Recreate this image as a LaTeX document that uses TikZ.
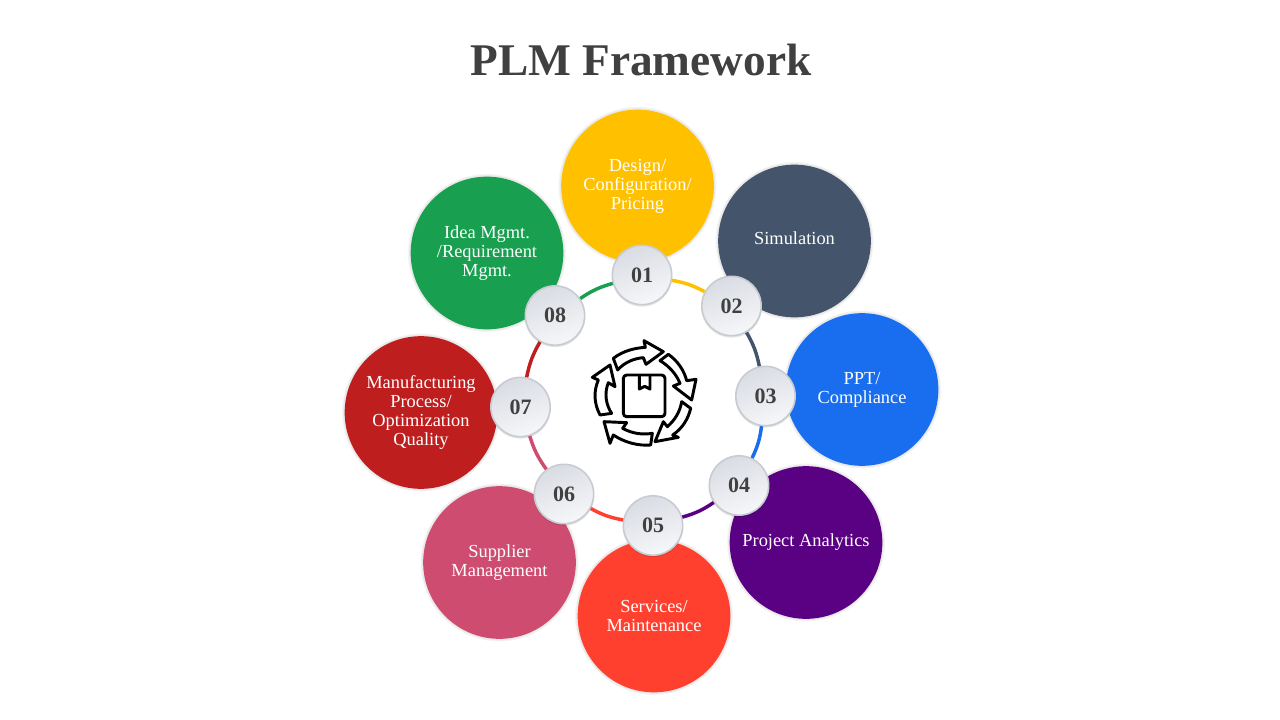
\documentclass[tikz,border=0pt]{standalone}
\usepackage{fontspec}
\setmainfont{Liberation Serif}
\usepackage{xcolor}
\usetikzlibrary{shadows}
\definecolor{cyellow}{HTML}{FFC000}
\definecolor{cslate}{HTML}{44546A}
\definecolor{cblue}{HTML}{196EF0}
\definecolor{cpurple}{HTML}{5A0082}
\definecolor{cred}{HTML}{FF402F}
\definecolor{cpink}{HTML}{CE4C70}
\definecolor{cdarkred}{HTML}{BE1E1E}
\definecolor{cgreen}{HTML}{189F50}
\definecolor{ctext}{HTML}{404040}
\definecolor{cbadgel}{HTML}{D9DCE3}
\definecolor{cbadger}{HTML}{F6F7F9}
\definecolor{cbadgeb}{HTML}{C8CBD1}
\tikzset{
    petal/.style={circle,fill=#1,minimum size=114.5pt,inner sep=0pt,text=white,align=center,
        font=\fontsize{13.8}{14.25}\selectfont,
        drop shadow={shadow xshift=0pt,shadow yshift=0pt,shadow scale=1.035,opacity=.04,fill=black},
        drop shadow={shadow xshift=0pt,shadow yshift=0pt,shadow scale=1.02,opacity=.05,fill=black}},
    badge/.style={circle,minimum size=44.5pt,inner sep=0pt,draw=cbadgeb,line width=1.2pt,
        left color=cbadgel,right color=cbadger,shading angle=20,text=ctext,
        font=\fontsize{16.5}{18}\selectfont\bfseries,
        drop shadow={shadow xshift=0pt,shadow yshift=-1pt,shadow scale=1.02,opacity=.1,fill=black}},
    ring/.style={line width=2.6pt,bend right=9},
    iconline/.style={line width=2.2pt,line join=round,black}
}
\begin{document}
\begin{tikzpicture}[x=0.75pt,y=0.75pt,yscale=-1,xscale=1]
    \useasboundingbox (0,0) rectangle (1280,720);

    \node (title) at (641,59.5) [text=ctext,font=\fontsize{34}{40}\selectfont\bfseries] {PLM Framework};

    % petals
    \node (design) at (637.5,186) [petal=cyellow] {Design/\\Configuration/\\Pricing};
    \node (simulation) at (794.5,241) [petal=cslate] {\raisebox{4pt}{Simulation}};
    \node (ppt) at (862,389.5) [petal=cblue] {PPT/\\Compliance};
    \node (analytics) at (806,542.5) [petal=cpurple] {\raisebox{-1pt}{Project Analytics}};
    \node (services) at (654,616) [petal=cred] {Services/\\Maintenance};
    \node (supplier) at (499.5,562.5) [petal=cpink] {Supplier\\Management};
    \node (manufacturing) at (421,412.5) [petal=cdarkred] {Manufacturing\\Process/\\Optimization\\Quality};
    \node (idea) at (487,253) [petal=cgreen] {Idea Mgmt.\\/Requirement\\Mgmt.};

    % numbered badges
    \node (b1) at (642,275) [badge] {01};
    \node (b2) at (731.5,306) [badge] {02};
    \node (b3) at (765.5,396) [badge] {03};
    \node (b4) at (739,485.5) [badge] {04};
    \node (b5) at (653,525.5) [badge] {05};
    \node (b6) at (564,494) [badge] {06};
    \node (b7) at (520.5,407) [badge] {07};
    \node (b8) at (555,315.5) [badge] {08};

    % ring
    \foreach \from/\to/\col in {b1/b2/cyellow,b2/b3/cslate,b3/b4/cblue,b4/b5/cpurple,b5/b6/cred,b6/b7/cpink,b7/b8/cdarkred,b8/b1/cgreen}
        \draw [ring,\col] (\from) to (\to);

    % icon
    \begin{scope}[shift={(560,320)},x=0.25pt,y=0.25pt]
        \draw [iconline] (160,115) .. controls (190,92) and (225,84) .. (256,82) -- (252,62) -- (310,95) -- (258,133) -- (250,113) .. controls (225,115) and (195,125) .. (173,150) -- cycle;
        \draw [iconline] (325,103) .. controls (352,122) and (372,150) .. (380,182) -- (408,178) -- (395,240) -- (340,198) -- (360,190) .. controls (350,165) and (330,140) .. (300,122) -- cycle;
        \draw [iconline] (392,265) .. controls (385,295) and (368,325) .. (338,345) -- (355,352) -- (285,365) -- (310,305) -- (322,320) .. controls (345,300) and (360,275) .. (365,245) -- cycle;
        \draw [iconline] (272,375) .. controls (235,378) and (195,368) .. (160,345) -- (150,370) -- (132,305) -- (200,308) -- (188,325) .. controls (215,340) and (245,345) .. (277,340) -- cycle;
        \draw [iconline] (120,285) .. controls (102,250) and (100,215) .. (115,180) -- (97,172) -- (150,135) -- (165,200) -- (145,188) .. controls (132,220) and (138,255) .. (155,280) -- cycle;
        \draw [iconline,rounded corners=2.5pt] (190,165) rectangle (315,290);
        \draw [iconline] (238,165) -- (238,207) -- (254,199) -- (270,207) -- (270,165);
    \end{scope}
\end{tikzpicture}
\end{document}
